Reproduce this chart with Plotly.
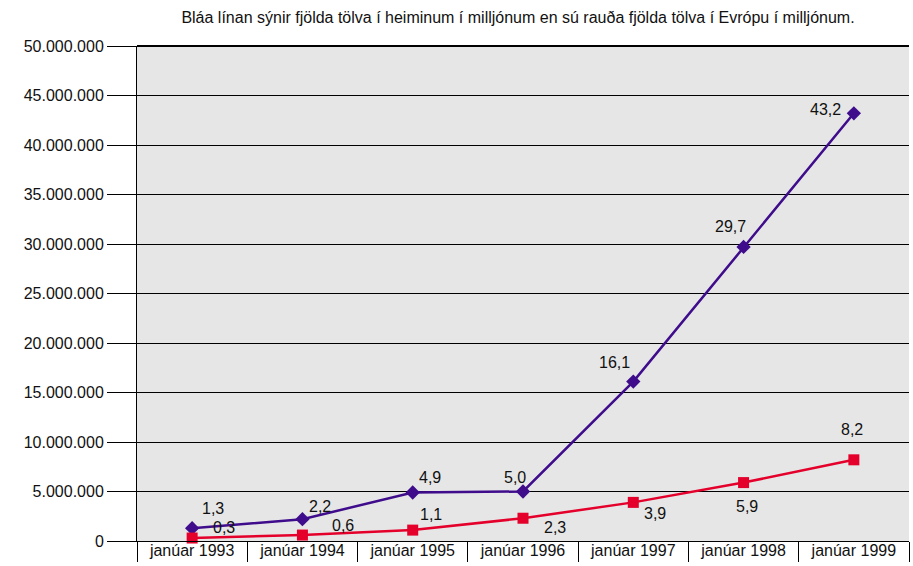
import plotly.graph_objects as go

categories = ["janúar 1993", "janúar 1994", "janúar 1995", "janúar 1996",
              "janúar 1997", "janúar 1998", "janúar 1999"]
world_millions = [1.3, 2.2, 4.9, 5.0, 16.1, 29.7, 43.2]
europe_millions = [0.3, 0.6, 1.1, 2.3, 3.9, 5.9, 8.2]
world_labels = ["1,3", "2,2", "4,9", "5,0", "16,1", "29,7", "43,2"]
europe_labels = ["0,3", "0,6", "1,1", "2,3", "3,9", "5,9", "8,2"]
ytick_vals = [0, 5e6, 10e6, 15e6, 20e6, 25e6, 30e6, 35e6, 40e6, 45e6, 50e6]
ytick_text = ["0", "5.000.000", "10.000.000", "15.000.000", "20.000.000", "25.000.000",
              "30.000.000", "35.000.000", "40.000.000", "45.000.000", "50.000.000"]
title_text = "Bláa línan sýnir fjölda tölva í heiminum í milljónum en sú rauða fjölda tölva í Evrópu í milljónum."

# label offsets (px) relative to each marker
world_off = [(21, 20), (18, 13), (17, 15), (-8, 14), (-19, 19), (-13, 20), (-28, 4)]
europe_off = [(32, 11), (41, 10), (18, 16), (32, -9), (22, -11), (3, -24), (-2, 30)]

FONT = "Liberation Sans, Arial, sans-serif"
BLUE = "#3f0c8c"
RED = "#e4002b"

world = [v * 1e6 for v in world_millions]
europe = [v * 1e6 for v in europe_millions]

fig = go.Figure()
fig.add_trace(go.Scatter(x=categories, y=world, mode="lines+markers",
                         line=dict(color=BLUE, width=2.5),
                         marker=dict(symbol="diamond", size=11, color=BLUE),
                         showlegend=False, cliponaxis=False))
fig.add_trace(go.Scatter(x=categories, y=europe, mode="lines+markers",
                         line=dict(color=RED, width=2.5),
                         marker=dict(symbol="square", size=11, color=RED),
                         showlegend=False, cliponaxis=False))

for c, v, t, (dx, dy) in zip(categories, world, world_labels, world_off):
    fig.add_annotation(x=c, y=v, text=t, showarrow=False, xshift=dx, yshift=dy,
                       font=dict(family=FONT, size=16, color="#111111"))
for c, v, t, (dx, dy) in zip(categories, europe, europe_labels, europe_off):
    fig.add_annotation(x=c, y=v, text=t, showarrow=False, xshift=dx, yshift=dy,
                       font=dict(family=FONT, size=16, color="#111111"))

fig.update_layout(
    width=913, height=566,
    margin=dict(l=137, r=4, t=46, b=25),
    paper_bgcolor="white",
    plot_bgcolor="#e6e6e6",
    font=dict(family=FONT, size=16, color="#111111"),
    title=dict(text=title_text, x=518 / 913, xanchor="center",
               y=1 - 17 / 566, yanchor="middle", xref="container", yref="container",
               font=dict(family=FONT, size=16, color="#111111")),
    xaxis=dict(type="category", range=[-0.5, 6.5], showgrid=False, automargin=False,
               ticks="outside", tickson="boundaries", ticklen=20, tickwidth=1,
               tickcolor="black", showline=True, linecolor="black", linewidth=1,
               ticklabelstandoff=-5, zeroline=False,
               tickfont=dict(family=FONT, size=16)),
    yaxis=dict(range=[0, 50e6], tickvals=ytick_vals, ticktext=ytick_text, automargin=False,
               showgrid=True, gridcolor="black", gridwidth=1,
               ticks="outside", ticklen=29, tickcolor="black", tickwidth=1,
               showline=True, linecolor="black", linewidth=1, zeroline=False,
               tickfont=dict(family=FONT, size=16)),
)
fig.add_shape(type="line", xref="paper", yref="paper", x0=0, x1=1, y0=1, y1=1,
              line=dict(color="black", width=2), layer="above")

fig.write_html("out.html", config={"displayModeBar": False},
               post_script="document.body.style.margin='0';document.body.style.overflow='hidden';")
